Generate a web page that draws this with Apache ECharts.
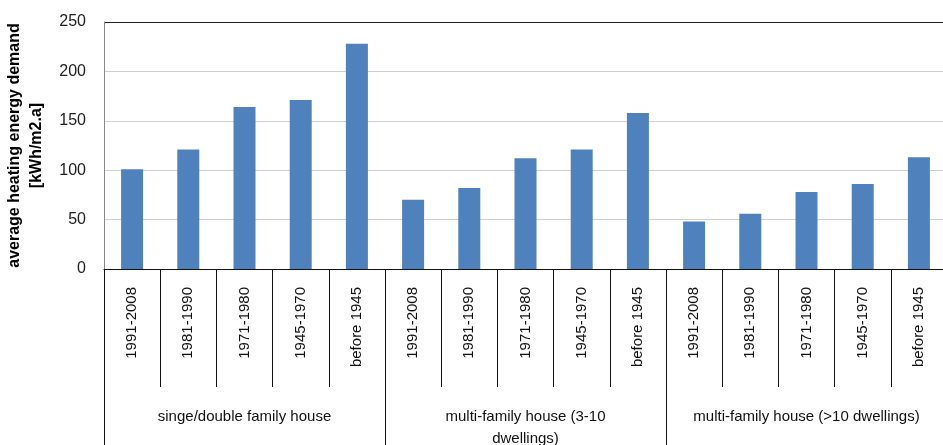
<!DOCTYPE html>
<html>
<head>
<meta charset="utf-8">
<script src="https://cdn.jsdelivr.net/npm/echarts@6/dist/echarts.min.js"></script>
<style>
html,body{margin:0;padding:0;background:#fff;}
#chart{width:943px;height:445px;}
</style>
</head>
<body>
<div id="chart"></div>
<script>
const periods = ['1991-2008', '1981-1990', '1971-1980', '1945-1970', 'before 1945'];
const groups = ['singe/double family house', 'multi-family house (3-10\ndwellings)', 'multi-family house (>10 dwellings)'];
const singleDouble = [101, 121, 164, 171, 228];
const multi3to10 = [70, 82, 112, 121, 158];
const multiOver10 = [48, 56, 78, 86, 113];
const yTicks = { min: 0, max: 250, interval: 50 };
const yTitle = 'average heating energy demand\n[kWh/m2.a]';

const categories = [].concat(periods, periods, periods);
const values = [].concat(singleDouble, multi3to10, multiOver10);

const font = 'Liberation Sans, Arial, sans-serif';
const chart = echarts.init(document.getElementById('chart'), null, { renderer: 'canvas' });
chart.setOption({
  animation: false,
  backgroundColor: '#fff',
  grid: { left: 104, top: 22, width: 843, bottom: 176, containLabel: false, outerBoundsMode: 'none' },
  xAxis: [
    {
      type: 'category',
      data: categories,
      position: 'bottom',
      axisLine: { show: true, lineStyle: { color: '#111', width: 1 } },
      axisTick: { show: true, interval: 0, length: 118, lineStyle: { color: '#111', width: 1 } },
      axisLabel: { interval: 0, rotate: 90, margin: 18, fontSize: 15, color: '#111', fontFamily: font }
    },
    {
      type: 'category',
      data: groups,
      position: 'bottom',
      axisLine: { show: false },
      axisTick: { show: true, interval: 0, length: 180, lineStyle: { color: '#111', width: 1 } },
      axisLabel: { interval: 0, margin: 137, fontSize: 15, lineHeight: 22, color: '#111', fontFamily: font }
    }
  ],
  yAxis: {
    type: 'value',
    min: yTicks.min,
    max: yTicks.max,
    interval: yTicks.interval,
    name: yTitle,
    nameLocation: 'middle',
    nameGap: 56,
    nameTextStyle: { fontSize: 16, fontWeight: 'bold', color: '#000', lineHeight: 22, fontFamily: font },
    axisLine: { show: true, lineStyle: { color: '#888', width: 1 } },
    axisTick: { show: false },
    axisLabel: { margin: 18, fontSize: 16, color: '#222', fontFamily: font },
    splitLine: { show: true, lineStyle: { color: ['#cfcfcf', '#cfcfcf', '#cfcfcf', '#cfcfcf', '#cfcfcf', '#222'], width: 1 } }
  },
  series: [{
    type: 'bar',
    xAxisIndex: 0,
    data: values,
    barWidth: 22,
    itemStyle: { color: '#4F81BD' }
  }]
});
</script>
</body>
</html>
